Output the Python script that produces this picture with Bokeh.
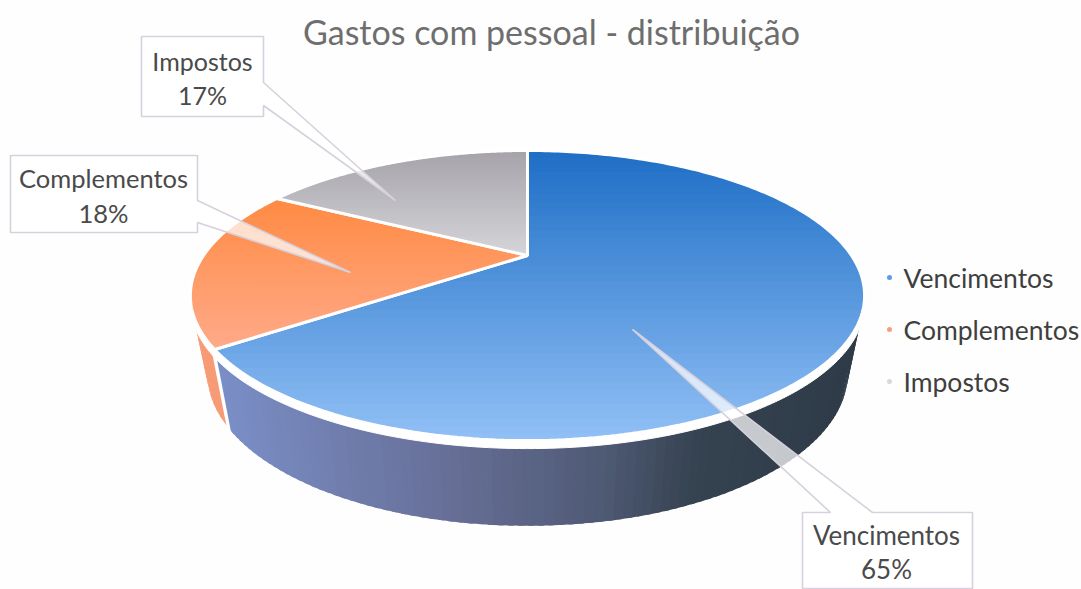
import numpy as np
from bokeh.plotting import figure
from bokeh.embed import file_html
from bokeh.resources import INLINE
from bokeh.core.properties import value
from bokeh.models import Range1d

# ---- data ----
categories = ["Vencimentos", "Complementos", "Impostos"]
shares = [65, 18, 17]
title_text = "Gastos com pessoal - distribuição"

# ---- styles ----
top_colors = {"Vencimentos": ("#1f6fc6", "#93c1f6"),
              "Complementos": ("#ff8a42", "#ffab8c"),
              "Impostos": ("#a6a4aa", "#d6d6da")}
dot_colors = ["#5b9bea", "#fb9c80", "#d8d8dc"]
FONT = "Lato"
BG = "#fefefe"

CX, CY_APEX, RX, A, K = 527.0, 255.0, 324.0, 134.0, 0.276
CY_MID = 295.0


def proj(theta, r=1.0):
    u, v = r * np.sin(theta), r * np.cos(theta)
    d = 1 + K * v
    return CX + RX * u / d, CY_APEX - A * v / d


def lower(x, y, s=0.95, sy=1.05, cy=373.0):
    return CX + (x - CX) * s, cy + (y - CY_MID) * sy


def hexrgb(h):
    return np.array([int(h[i:i + 2], 16) for i in (1, 3, 5)], float)


def mix(a, b, t):
    c = hexrgb(a) * (1 - t) + hexrgb(b) * t
    return "#%02x%02x%02x" % tuple(int(round(v)) for v in c)


def clip_below(px, py, t):
    """polygon part with y >= t"""
    ox, oy = [], []
    n = len(px)
    for i in range(n):
        x0, y0, x1, y1 = px[i], py[i], px[(i + 1) % n], py[(i + 1) % n]
        if y0 >= t:
            ox.append(x0); oy.append(y0)
        if (y0 >= t) != (y1 >= t):
            f = (t - y0) / (y1 - y0)
            ox.append(x0 + f * (x1 - x0)); oy.append(t)
    return ox, oy


fracs = np.array(shares, float) / sum(shares)
edges = np.concatenate([[0], np.cumsum(fracs)]) * 2 * np.pi

p = figure(width=1081, height=589, output_backend="svg", toolbar_location=None,
           x_range=Range1d(0, 1081), y_range=Range1d(589, 0),
           min_border=0, background_fill_color=BG, border_fill_color=BG)
p.axis.visible = False
p.grid.visible = False
p.outline_line_color = None

# ---- side wall ----
wall_stops = [(215, "#7a8ec6"), (450, "#666e96"), (600, "#4f5a75"), (700, "#35424f"), (870, "#2e3a47")]


def wall_color(x):
    for (a, ca), (b, cb) in zip(wall_stops[:-1], wall_stops[1:]):
        if x <= b:
            return mix(ca, cb, max(0, (x - a) / (b - a)))
    return wall_stops[-1][1]


def wall_strips(t0, t1, n, colorfn, overlap):
    # strips are painted in order of angle, each running slightly under the next one
    wx, wy, wc = [], [], []
    ts = np.linspace(t0, t1, n + 1)
    for i, (a, b) in enumerate(zip(ts[:-1], ts[1:])):
        b2 = b if i == n - 1 else b + overlap
        x0, y0 = proj(a); x1, y1 = proj(b2)
        x2, y2 = lower(*proj(b2)); x3, y3 = lower(*proj(a))
        wx.append([x0, x1, x2, x3]); wy.append([y0, y1, y2, y3])
        wc.append(colorfn((x0 + x1) / 2))
    p.patches(wx, wy, fill_color=wc, line_color=None)


wall_strips(np.radians(70), edges[1] - 0.004, 120, wall_color, 0.012)
wall_strips(edges[1] + 0.03, np.radians(290), 24, lambda x: "#f79b76", 0.012)

# white rim under the top face
ring = np.linspace(0, 2 * np.pi, 361)
rx_, ry_ = proj(ring)
p.patch(list(rx_), list(ry_ + 8), fill_color="#ffffff", line_color="#ffffff", line_width=1)

# ---- top face ----
for i, cat in enumerate(categories):
    ts = np.linspace(edges[i], edges[i + 1], 240)
    ex, ey = proj(ts)
    px = [CX] + list(ex)
    py = [CY_APEX] + list(ey)
    c0, c1 = top_colors[cat]
    y0, y1 = (150.0, 440.0) if cat == "Vencimentos" else ((195.0, 352.0) if cat == "Complementos" else (150.0, 255.0))
    lx, ly, lc = [], [], []
    n = 40
    for k in range(n):
        t = min(py) + (max(py) - min(py)) * k / n
        cx_, cy_ = clip_below(px, py, t)
        if len(cx_) >= 3:
            lx.append(cx_); ly.append(cy_)
            lc.append(mix(c0, c1, float(np.clip((t - y0) / (y1 - y0), 0, 1))))
    p.patches(lx, ly, fill_color=lc, line_color=None)
    p.patch(px, py, fill_alpha=0, line_color="#ffffff", line_width=3)

# ---- callouts ----
boxes = [
    ("Impostos", [141, 263, 263, 395, 263, 263, 141], [36, 36, 82, 200, 105, 116, 116], 202, 60, 94, "25px"),
    ("Complementos", [10, 197, 197, 350, 197, 197, 10], [155, 155, 200, 272, 222, 232, 232], 103, 177, 212, "25.5px"),
    ("Vencimentos", [802, 830, 632, 872, 972, 972, 802], [512, 512, 329, 512, 512, 588, 588], 886, 534, 568, "26px"),
]
for name, bx, by, tx, ty0, ty1, fs in boxes:
    p.patch(bx, by, fill_color="#ffffff", fill_alpha=0.72, line_color="#d6d1dc", line_width=1.6)
    share = shares[categories.index(name)]
    p.text([tx], [ty0], text=[name], text_font=value(FONT), text_font_size=fs,
           text_color="#4a4a4a", text_align="center", text_baseline="middle")
    p.text([tx], [ty1], text=["%d%%" % share], text_font=value(FONT), text_font_size=fs,
           text_color="#4a4a4a", text_align="center", text_baseline="middle")

# ---- title ----
p.text([551], [31], text=[title_text], text_font=value(FONT), text_font_size="34px",
       text_color="#6e6e6e", text_align="center", text_baseline="middle")

# ---- legend ----
leg_y = [277, 329, 381]
p.scatter([889] * 3, leg_y, size=5, marker="circle", fill_color=dot_colors, line_color=None)
p.text([903] * 3, leg_y, text=categories, text_font=value(FONT), text_font_size="26.5px",
       text_color="#3f3f3f", text_align="left", text_baseline="middle")

open("out.html", "w").write(file_html(p, INLINE))
